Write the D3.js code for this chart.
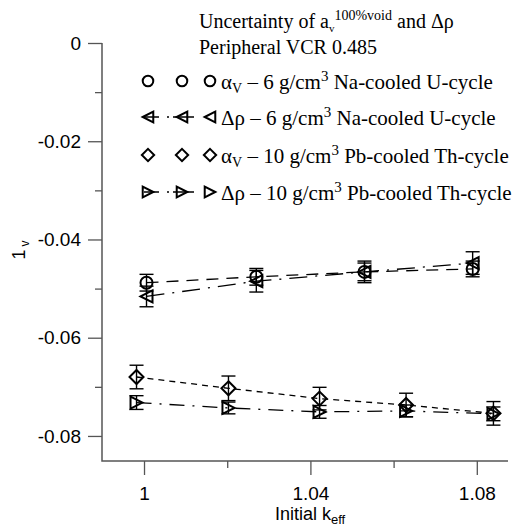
<!DOCTYPE html>
<html>
<head>
<meta charset="utf-8">
<script src="https://cdn.jsdelivr.net/npm/d3@7"></script>
<style>
  body { margin: 0; background: #fff; }
  svg { display: block; }
</style>
</head>
<body>
<svg id="chart" width="513" height="526"></svg>
<script>
// values
const naKeff = [1.0006, 1.027, 1.053, 1.079];
const naAlpha = [-0.0488, -0.0476, -0.0466, -0.0460];
const naAlphaErr = [0.0017, 0.0017, 0.0018, 0.0016];
const naRho = [-0.0516, -0.0485, -0.0466, -0.0448];
const naRhoErr = [0.0021, 0.0022, 0.0022, 0.0023];

const pbKeff = [0.9982, 1.0203, 1.0422, 1.063, 1.084];
const pbAlpha = [-0.068, -0.0703, -0.0724, -0.0737, -0.0754];
const pbAlphaErr = [0.0024, 0.0025, 0.0023, 0.0024, 0.0024];
const pbRho = [-0.0732, -0.0743, -0.0751, -0.0749, -0.0755];
const pbRhoErr = [0.0014, 0.0012, 0.0013, 0.0012, 0.0014];

const xTicks = [1, 1.04, 1.08];
const xMinor = [1.02, 1.06];
const yTicks = [0, -0.02, -0.04, -0.06, -0.08];
const yMinor = [-0.01, -0.03, -0.05, -0.07];

const series = [
  { sym: "circle", dash: "12,8", x: naKeff, y: naAlpha, err: naAlphaErr, legendDash: null,
    label: ["α", "V", " – 6 g/cm", "3", " Na-cooled U-cycle"] },
  { sym: "triLeft", dash: "18,8,2,8", x: naKeff, y: naRho, err: naRhoErr, legendDash: "15,8,2,4,21,40",
    label: ["Δρ", "", " – 6 g/cm", "3", " Na-cooled U-cycle"] },
  { sym: "diamond", dash: "6,5", x: pbKeff, y: pbAlpha, err: pbAlphaErr, legendDash: null,
    label: ["α", "V", " – 10 g/cm", "3", " Pb-cooled Th-cycle"] },
  { sym: "triRight", dash: "15,8,2,8", x: pbKeff, y: pbRho, err: pbRhoErr, legendDash: "15,8,2,4,21,40",
    label: ["Δρ", "", " – 10 g/cm", "3", " Pb-cooled Th-cycle"] },
];

const svg = d3.select("#chart");
const plotL = 102, plotR = 508, plotT = 43, plotB = 461;

const x = d3.scaleLinear().domain([0.9899, 1.0875]).range([plotL, plotR]);
const y = d3.scaleLinear().domain([-0.0851, 0]).range([plotB, plotT]);

const axisColor = "#555";
const sans = "'Liberation Sans', Arial, sans-serif";
const serif = "'Liberation Serif', 'Times New Roman', serif";

// y axis
const yAxis = svg.append("g").attr("transform", `translate(${plotL},0)`)
  .call(d3.axisLeft(y).tickValues(yTicks).tickSize(14).tickPadding(7)
    .tickFormat(d => d === 0 ? "0" : d3.format(".2f")(d).replace("−", "-")));
yAxis.selectAll(".domain").remove();
yAxis.selectAll(".tick line").attr("stroke", axisColor).attr("stroke-width", 1.3);
yAxis.selectAll(".tick text").attr("font-family", sans).attr("font-size", 19).attr("fill", "#000");
svg.append("g").attr("transform", `translate(${plotL},0)`)
  .call(d3.axisLeft(y).tickValues(yMinor).tickSize(7).tickFormat(""))
  .call(g => g.select(".domain").remove())
  .selectAll("line").attr("stroke", axisColor).attr("stroke-width", 1.3);

// x axis
const xAxis = svg.append("g").attr("transform", `translate(0,${plotB})`)
  .call(d3.axisBottom(x).tickValues(xTicks).tickSize(14).tickPadding(12)
    .tickFormat(d => d3.format("")(d)));
xAxis.selectAll(".domain").remove();
xAxis.selectAll(".tick line").attr("stroke", axisColor).attr("stroke-width", 1.3);
xAxis.selectAll(".tick text").attr("font-family", sans).attr("font-size", 19).attr("fill", "#000");
svg.append("g").attr("transform", `translate(0,${plotB})`)
  .call(d3.axisBottom(x).tickValues(xMinor).tickSize(7).tickFormat(""))
  .call(g => g.select(".domain").remove())
  .selectAll("line").attr("stroke", axisColor).attr("stroke-width", 1.3);

// axis lines
svg.append("path")
  .attr("d", `M${plotL},${plotT}V${plotB}H${plotR}`)
  .attr("fill", "none").attr("stroke", axisColor).attr("stroke-width", 1.5);

// axis titles
const xt = svg.append("text").attr("x", 310).attr("y", 520)
  .attr("text-anchor", "middle").attr("font-family", sans).attr("font-size", 18);
xt.append("tspan").text("Initial k");
xt.append("tspan").attr("font-size", 13).attr("dy", 4).text("eff");

const yt = svg.append("text").attr("transform", "translate(25,250) rotate(-90)")
  .attr("text-anchor", "middle").attr("font-family", sans).attr("font-size", 18);
yt.append("tspan").text("1");
yt.append("tspan").attr("font-size", 12).attr("dx", 3).attr("dy", 4).text("v");

// markers, s = size scale
function marker(g, sym, s = 1) {
  let p;
  if (sym === "circle") {
    return g.append("circle").attr("r", 6 * s);
  } else if (sym === "diamond") {
    p = [[0, -7], [7, 0], [0, 7], [-7, 0]];
  } else if (sym === "triLeft") {
    p = [[-6, 0], [6, -6], [6, 6]];
  } else {
    p = [[6, 0], [-6, -6], [-6, 6]];
  }
  return g.append("path").attr("d", "M" + p.map(q => [q[0] * s, q[1] * s].join(",")).join("L") + "Z");
}

const plot = svg.append("g");
series.forEach(s => {
  const pts = s.x.map((k, i) => ({ k, v: s.y[i], e: s.err[i] }));
  plot.append("path").datum(pts)
    .attr("d", d3.line().x(d => x(d.k)).y(d => y(d.v)))
    .attr("fill", "none").attr("stroke", "#000").attr("stroke-width", 1.3)
    .attr("stroke-dasharray", s.dash);

  const pg = plot.append("g").selectAll("g").data(pts).join("g")
    .attr("stroke", "#000").attr("fill", "none").attr("stroke-width", 1.4);
  pg.append("line")
    .attr("x1", d => x(d.k)).attr("x2", d => x(d.k))
    .attr("y1", d => y(d.v + d.e)).attr("y2", d => y(d.v - d.e));
  pg.append("line")
    .attr("x1", d => x(d.k) - 7).attr("x2", d => x(d.k) + 7)
    .attr("y1", d => y(d.v + d.e)).attr("y2", d => y(d.v + d.e));
  pg.append("line")
    .attr("x1", d => x(d.k) - 7).attr("x2", d => x(d.k) + 7)
    .attr("y1", d => y(d.v - d.e)).attr("y2", d => y(d.v - d.e));
  pg.each(function (d) {
    const m = d3.select(this).append("g").attr("transform", `translate(${x(d.k)},${y(d.v)})`);
    marker(m, s.sym).attr("stroke-width", 2);
  });
});

// legend
const lg = svg.append("g").attr("font-family", serif).attr("font-size", 20).attr("fill", "#000");
const t1 = lg.append("text").attr("x", 199).attr("y", 28);
t1.append("tspan").text("Uncertainty of a");
t1.append("tspan").attr("font-size", 11).attr("dy", 4).text("v");
t1.append("tspan").attr("font-size", 14).attr("dy", -12).text("100%void");
t1.append("tspan").attr("dy", 8).text(" and Δρ");
lg.append("text").attr("x", 199).attr("y", 54).text("Peripheral VCR 0.485");

const rowY = [81, 117, 155, 192];
const symX = [148, 182, 210];
series.forEach((s, i) => {
  const ry = rowY[i];
  if (s.legendDash) {
    lg.append("line").attr("x1", 144).attr("x2", 214).attr("y1", ry).attr("y2", ry)
      .attr("stroke", "#000").attr("stroke-width", 1.3).attr("stroke-dasharray", s.legendDash);
  }
  symX.forEach(sx => {
    const m = lg.append("g").attr("transform", `translate(${sx},${ry})`)
      .attr("fill", "none").attr("stroke", "#000");
    marker(m, s.sym, 0.88).attr("stroke-width", 2);
  });
  const t = lg.append("text").attr("x", 221).attr("y", ry + 8).attr("font-size", 21);
  t.append("tspan").text(s.label[0]);
  if (s.label[1]) t.append("tspan").attr("font-size", 14).attr("dy", 4).text(s.label[1]);
  t.append("tspan").attr("dy", s.label[1] ? -4 : 0).text(s.label[2]);
  t.append("tspan").attr("font-size", 15).attr("dy", -8).text(s.label[3]);
  t.append("tspan").attr("dy", 8).text(s.label[4]);
});
</script>
</body>
</html>
